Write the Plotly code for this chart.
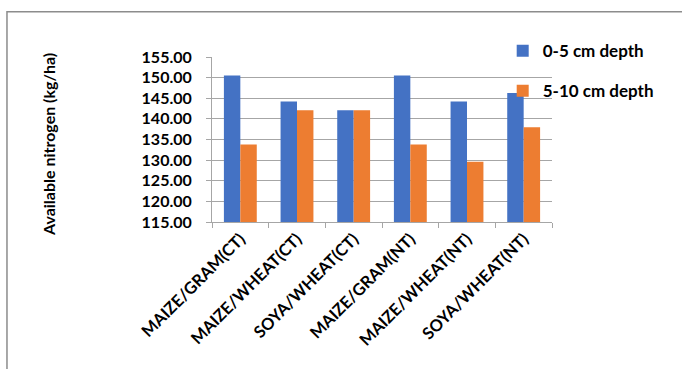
import plotly.graph_objects as go

categories = ["MAIZE/GRAM(CT)", "MAIZE/WHEAT(CT)", "SOYA/WHEAT(CT)",
              "MAIZE/GRAM(NT)", "MAIZE/WHEAT(NT)", "SOYA/WHEAT(NT)"]
depth_0_5 = [150.5, 144.2, 142.1, 150.5, 144.2, 146.3]
depth_5_10 = [133.8, 142.1, 142.1, 133.8, 129.6, 138.0]

FONT = "Lato, Open Sans, sans-serif"

fig = go.Figure()
fig.add_trace(go.Bar(x=categories, y=depth_0_5, name="0-5 cm depth",
                     marker=dict(color="#4472C4", line=dict(width=0)),
                     legendgroup="a"))
fig.add_trace(go.Bar(x=categories, y=depth_5_10, name="5-10 cm depth",
                     marker=dict(color="#ED7D31", line=dict(width=0)),
                     legendgroup="b"))

fig.update_layout(
    width=682, height=369,
    margin=dict(l=212, r=130, t=57, b=147, autoexpand=False),
    paper_bgcolor="white", plot_bgcolor="white",
    barmode="group", bargap=0.42, bargroupgap=0,
    font=dict(family=FONT, color="black"),
    legend=dict(x=0.855, y=1.145, xanchor="left", yanchor="top",
                font=dict(size=17, family=FONT, color="black", weight="bold"),
                tracegroupgap=15, itemwidth=30, bgcolor="rgba(0,0,0,0)"),
    xaxis=dict(showgrid=False, showline=True, linecolor="#a6a6a6",
               ticks="outside", tickson="boundaries", ticklen=5,
               tickcolor="#a6a6a6", tickangle=-45,
               tickfont=dict(size=16.5, family=FONT, weight="bold")),
    yaxis=dict(range=[115, 155], dtick=5, tickformat=".2f",
               showgrid=True, gridcolor="#a6a6a6", gridwidth=1,
               showline=True, linecolor="#a6a6a6",
               ticks="outside", ticklen=5, tickcolor="#a6a6a6",
               ticklabelstandoff=11,
               tickfont=dict(size=16, family=FONT, weight="bold")),
)

# axis title placed as in the original (lower than plot centre)
fig.add_annotation(text="Available nitrogen (kg/ha)", textangle=-90,
                   xref="paper", yref="paper",
                   x=(48 - 212) / 340, y=(222 - 145) / 165,
                   xanchor="center", yanchor="middle",
                   showarrow=False,
                   font=dict(size=16, family=FONT, color="black", weight="bold"))

# outer chart frame
fig.add_shape(type="rect", xref="paper", yref="paper",
              x0=-0.603, x1=2, y0=-2, y1=1.274,
              line=dict(color="#8c8c8c", width=1.5), layer="below")

fig.write_html("out.html", config={"displayModeBar": False},
               post_script="document.body.style.margin='0';")
